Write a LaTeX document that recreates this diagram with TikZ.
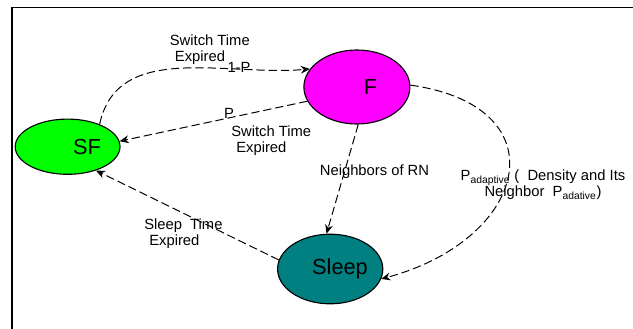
\documentclass[tikz,border=0pt]{standalone}
\usepackage{fontspec}
\setmainfont{Liberation Sans}
\usepackage{xcolor}
\usetikzlibrary{shapes,arrows,arrows.meta,positioning}
\definecolor{sfgreen}{RGB}{0,255,0}
\definecolor{fmagenta}{RGB}{255,0,255}
\definecolor{sleepteal}{RGB}{0,128,128}

\begin{document}
\begin{tikzpicture}[x=0.025cm, y=-0.025cm]
    % Stili
    \tikzstyle{state}=[ellipse, draw=black, line width=0.8pt, inner sep=0pt]
    \tikzstyle{big}=[font=\fontsize{15.5}{18}\selectfont]
    \tikzstyle{txt}=[inner sep=0pt, font=\fontsize{10.5}{11.5}\selectfont]
    \tikzstyle{arrow}=[->, >={Stealth[length=6.5pt,width=5.5pt]}, dash pattern=on 5.9pt off 2.8pt, line width=0.7pt]

    \useasboundingbox (0,0) rectangle (633,329);
    \draw[line width=0.8pt] (12,329) -- (12,7.3) -- (633,7.3);

    % Nodi
    \node (sf) [state, fill=sfgreen, minimum width=2.62cm, minimum height=1.38cm,
        label={[big, xshift=0.485cm]center:SF}] at (67.6,146.7) {};
    \node (f) [state, fill=fmagenta, minimum width=2.65cm, minimum height=1.85cm,
        label={[big, xshift=0.34cm]center:F}] at (356.9,87) {};
    \node (sleep) [state, fill=sleepteal, minimum width=2.63cm, minimum height=1.74cm,
        label={[big, xshift=0.245cm]center:Sleep}] at (330.2,269) {};

    % Etichette
    \node (sw1) [txt, align=left, anchor=west] at (169.6,49.5) {Switch Time\\\hspace*{3.6pt}Expired};
    \node (q) [txt] at (239,67.7) {1-P};
    \node (p) [txt] at (229,113) {P};
    \node (sw2) [txt, align=left, anchor=west] at (231,141) {Switch Time\\\hspace*{3.6pt}Expired};
    \node (rn) [txt] at (374.5,172) {Neighbors of RN};
    \node (pad) [txt, align=center] at (543,185) {P\textsubscript{adaptive} (\ \ Density and Its\\Neighbor\ \ P\textsubscript{adative})};
    \node (slt) [txt, align=left, anchor=west] at (144,234) {Sleep\ \ Time\\\hspace*{3.6pt}Expired};

    % Collegamenti
    \draw [arrow] (sf.35) to[out=78, in=185] (f.159);
    \draw [arrow] (f.196) -- (sf.6);
    \draw [arrow] (f.-88) -- (sleep.96);
    \draw [arrow] (sleep.170) -- (sf.-40);
    \draw [arrow] (f.2) to[out=-8, in=15, looseness=2] (sleep.-11);

\end{tikzpicture}
\end{document}
